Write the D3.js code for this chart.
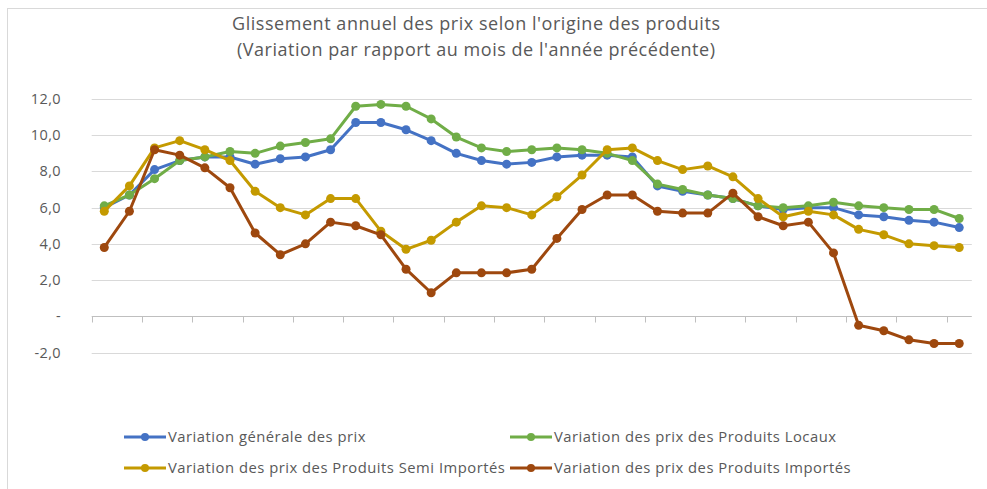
<!DOCTYPE html>
<html>
<head>
<meta charset="utf-8">
<script src="https://cdn.jsdelivr.net/npm/d3@7"></script>
<style>
    body { margin: 0; background: #fff; }
    text { font-family: "Open Sans", "Noto Sans", sans-serif; fill: #595959; }
</style>
</head>
<body>
<div id="plot"></div>
<script>
let svgWidth = 987;
let svgHeight = 489;

// 35 monthly points, month labels are not shown on the chart
let months = d3.range(35);

let yTicks = [-2, 0, 2, 4, 6, 8, 10, 12];

let titleLines = [
    "Glissement annuel des prix selon l'origine des produits",
    "(Variation par rapport au mois de l'année précédente)"
];

let seriesNames = [
    'Variation générale des prix',
    'Variation des prix des Produits Locaux',
    'Variation des prix des Produits Semi Importés',
    'Variation des prix des Produits Importés'
];

let general = [6.0, 6.7, 8.1, 8.6, 8.8, 8.8, 8.4, 8.7, 8.8, 9.2, 10.7, 10.7, 10.3, 9.7, 9.0, 8.6, 8.4, 8.5,
    8.8, 8.9, 8.9, 8.8, 7.2, 6.9, 6.7, 6.5, 6.1, 5.9, 6.0, 6.0, 5.6, 5.5, 5.3, 5.2, 4.9];
let locaux = [6.1, 6.7, 7.6, 8.6, 8.8, 9.1, 9.0, 9.4, 9.6, 9.8, 11.6, 11.7, 11.6, 10.9, 9.9, 9.3, 9.1, 9.2,
    9.3, 9.2, 9.0, 8.6, 7.3, 7.0, 6.7, 6.5, 6.1, 6.0, 6.1, 6.3, 6.1, 6.0, 5.9, 5.9, 5.4];
let semiImportes = [5.8, 7.2, 9.3, 9.7, 9.2, 8.6, 6.9, 6.0, 5.6, 6.5, 6.5, 4.7, 3.7, 4.2, 5.2, 6.1, 6.0, 5.6,
    6.6, 7.8, 9.2, 9.3, 8.6, 8.1, 8.3, 7.7, 6.5, 5.5, 5.8, 5.6, 4.8, 4.5, 4.0, 3.9, 3.8];
let importes = [3.8, 5.8, 9.2, 8.9, 8.2, 7.1, 4.6, 3.4, 4.0, 5.2, 5.0, 4.5, 2.6, 1.3, 2.4, 2.4, 2.4, 2.6,
    4.3, 5.9, 6.7, 6.7, 5.8, 5.7, 5.7, 6.8, 5.5, 5.0, 5.2, 3.5, -0.5, -0.8, -1.3, -1.5, -1.5];

let colors = ['#4472C4', '#70AD47', '#C49A00', '#9E480E'];

let allSeries = [general, locaux, semiImportes, importes];

let $svg = d3.select('#plot')
    .append('svg')
    .attr('width', svgWidth)
    .attr('height', svgHeight);

// chart frame
$svg.append('rect')
    .attr('x', 7.5)
    .attr('y', 8.5)
    .attr('width', 1000)
    .attr('height', 500)
    .attr('fill', 'none')
    .attr('stroke', '#d9d9d9');

// Title (two lines)
let titleY = [30, 56];
let titleLen = [488, 478];
titleLines.forEach((t, i) => {
    $svg.append('text')
        .attr('x', 476)
        .attr('y', titleY[i])
        .attr('text-anchor', 'middle')
        .attr('textLength', titleLen[i])
        .attr('lengthAdjust', 'spacing')
        .style('font-size', '18px')
        .text(t);
});

// Scales
let xBand = d3.scaleBand()
    .domain(months)
    .range([91.7, 971.8]);
let xCenter = i => xBand(i) + xBand.bandwidth() / 2;

let yLinearScale = d3.scaleLinear()
    .domain([-2, 12])
    .range([352.5, 99]);

// Gridlines
$svg.append('g')
    .selectAll('line')
    .data(yTicks.filter(d => d !== 0))
    .enter()
    .append('line')
    .attr('x1', 91.7)
    .attr('x2', 971.8)
    .attr('y1', d => Math.round(yLinearScale(d)) + 0.5)
    .attr('y2', d => Math.round(yLinearScale(d)) + 0.5)
    .attr('stroke', '#d9d9d9')
    .attr('stroke-width', 1);

// Y tick labels
$svg.append('g')
    .selectAll('text')
    .data(yTicks)
    .enter()
    .append('text')
    .attr('x', 61)
    .attr('y', d => yLinearScale(d) + 5)
    .attr('text-anchor', 'end')
    .style('font-size', '14.5px')
    .style('letter-spacing', '0.4px')
    .text(d => d === 0 ? '-' : d.toFixed(1).replace('.', ','));

// x axis at zero with a tick every 2 months
let zeroY = Math.round(yLinearScale(0)) + 0.5;
$svg.append('line')
    .attr('x1', 91.7)
    .attr('x2', 971.8)
    .attr('y1', zeroY)
    .attr('y2', zeroY)
    .attr('stroke', '#bfbfbf');

$svg.append('g')
    .selectAll('line')
    .data(months.filter(d => d % 2 === 0))
    .enter()
    .append('line')
    .attr('x1', d => Math.round(xBand(d)) + 0.5)
    .attr('x2', d => Math.round(xBand(d)) + 0.5)
    .attr('y1', zeroY)
    .attr('y2', zeroY + 6)
    .attr('stroke', '#bfbfbf');

// Lines and markers
let line = d3.line()
    .x((d, i) => xCenter(i))
    .y(d => yLinearScale(d));

allSeries.forEach((values, s) => {
    let $g = $svg.append('g');
    $g.append('path')
        .datum(values)
        .attr('d', line)
        .attr('fill', 'none')
        .attr('stroke', colors[s])
        .attr('stroke-width', 3)
        .attr('stroke-linejoin', 'round');
    $g.selectAll('circle')
        .data(values)
        .enter()
        .append('circle')
        .attr('cx', (d, i) => xCenter(i))
        .attr('cy', d => yLinearScale(d))
        .attr('r', 4.5)
        .attr('fill', colors[s]);
});

// Legend
let legendPos = [[124, 437], [510, 437], [124, 468], [510, 468]];
seriesNames.forEach((name, s) => {
    let [lx, ly] = legendPos[s];
    let $item = $svg.append('g').attr('transform', `translate(${lx}, ${ly})`);
    $item.append('line')
        .attr('x1', 0)
        .attr('x2', 42)
        .attr('stroke', colors[s])
        .attr('stroke-width', 3);
    $item.append('circle')
        .attr('cx', 21)
        .attr('r', 4)
        .attr('fill', colors[s]);
    $item.append('text')
        .attr('x', 44)
        .attr('y', 5)
        .style('font-size', '14.8px')
        .style('letter-spacing', '0.5px')
        .text(name);
});
</script>
</body>
</html>
